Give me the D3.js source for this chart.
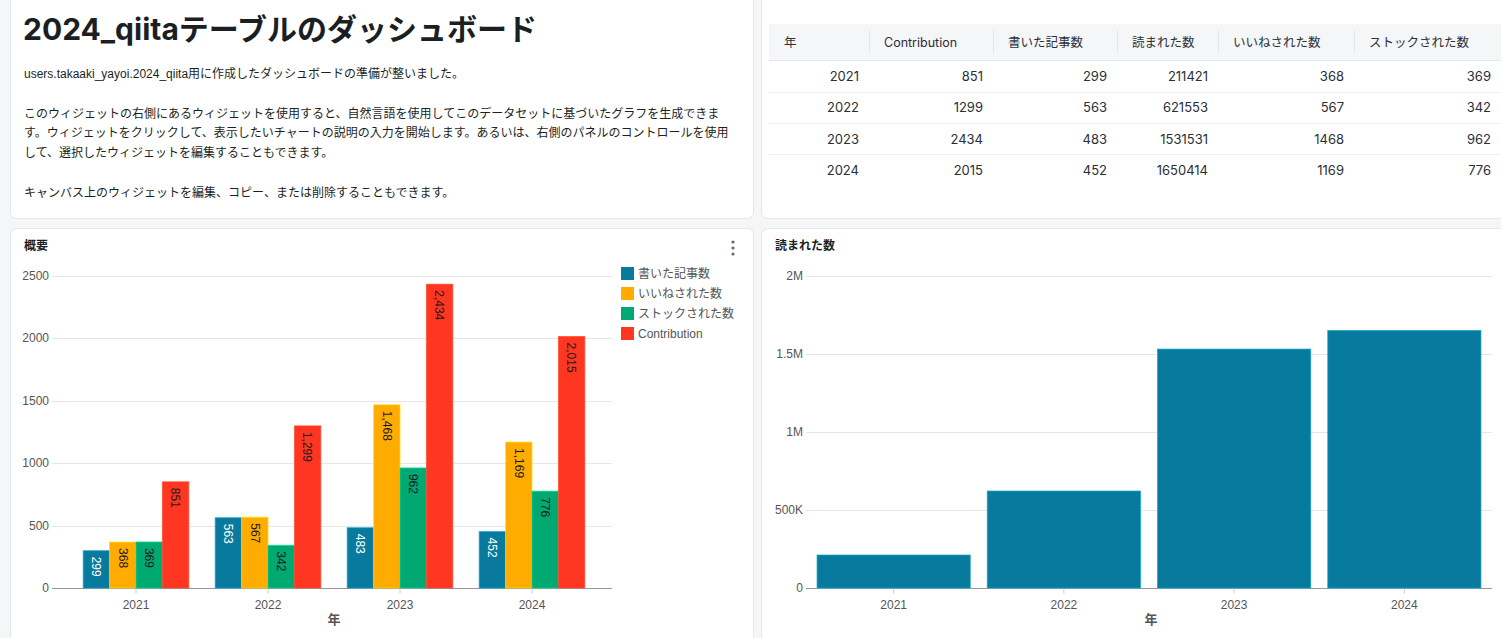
<!DOCTYPE html>
<html><head><meta charset="utf-8">
<script src="https://cdn.jsdelivr.net/npm/d3@7"></script>
<style>
html,body{margin:0;padding:0;background:#f5f6f8;overflow:hidden;}
svg{display:block;}
</style></head>
<body>
<script>
// ---- data ----
const years = ["2021", "2022", "2023", "2024"];
const contribution = [851, 1299, 2434, 2015];
const articles = [299, 563, 483, 452];
const views = [211421, 621553, 1531531, 1650414];
const likes = [368, 567, 1468, 1169];
const stocks = [369, 342, 962, 776];
const seriesNames = ["書いた記事数", "いいねされた数", "ストックされた数", "Contribution"];
const seriesColors = ["#077A9D", "#FFAB00", "#00A972", "#FF3621"];
const leftTicks = [0, 500, 1000, 1500, 2000, 2500];
const rightTicks = [0, 500000, 1000000, 1500000, 2000000];
const rightTickLabels = ["0", "500K", "1M", "1.5M", "2M"];
const tableHeaders = ["年", "Contribution", "書いた記事数", "読まれた数", "いいねされた数", "ストックされた数"];
const dashTitle = "2024_qiitaテーブルのダッシュボード";
const paragraphLines = [
  "users.takaaki_yayoi.2024_qiita用に作成したダッシュボードの準備が整いました。",
  "",
  "このウィジェットの右側にあるウィジェットを使用すると、自然言語を使用してこのデータセットに基づいたグラフを生成できま",
  "す。ウィジェットをクリックして、表示したいチャートの説明の入力を開始します。あるいは、右側のパネルのコントロールを使用",
  "して、選択したウィジェットを編集することもできます。",
  "",
  "キャンバス上のウィジェットを編集、コピー、または削除することもできます。"
];

const W = 1501, H = 638;
const FONT = "'Inter','Noto Sans CJK JP',sans-serif";
const PFONT = "'Liberation Sans','Noto Sans CJK JP',sans-serif";
const CFONT = "'Liberation Sans','Noto Sans CJK JP',sans-serif";

const svg = d3.select("body").append("svg").attr("width", W).attr("height", H);
svg.append("rect").attr("width", W).attr("height", H).attr("fill", "#f5f6f8");

// cards
const cards = [[10, -10, 743, 228], [761, -10, 760, 228], [10, 228, 743, 430], [761, 228, 760, 430]];
svg.selectAll("rect.card").data(cards).join("rect").attr("class", "card")
  .attr("x", d => d[0] + 0.5).attr("y", d => d[1] + 0.5).attr("width", d => d[2]).attr("height", d => d[3])
  .attr("rx", 6).attr("fill", "#fff").attr("stroke", "#e4e7eb");

// ---- text card ----
svg.append("text").attr("x", 23).attr("y", 40).attr("font-family", FONT).attr("font-size", 30)
  .attr("font-weight", 700).attr("fill", "#1b1f24").text(dashTitle);
svg.append("g").selectAll("text").data(paragraphLines).join("text")
  .attr("x", 24).attr("y", (d, i) => 78 + i * 19.8).attr("font-family", PFONT).attr("font-size", 12)
  .attr("fill", "#1b1f24").text(d => d);

// ---- table ----
const colEdges = [769, 869, 993, 1117, 1218, 1354, 1501];
const tg = svg.append("g");
tg.append("rect").attr("x", 769).attr("y", 24).attr("width", 740).attr("height", 36).attr("fill", "#f5f6f8");
tg.append("line").attr("x1", 769).attr("x2", 1501).attr("y1", 60.5).attr("y2", 60.5).attr("stroke", "#e3e6ea");
tg.selectAll("line.sep").data(colEdges.slice(1, 6)).join("line").attr("class", "sep")
  .attr("x1", d => d + 0.5).attr("x2", d => d + 0.5).attr("y1", 30).attr("y2", 54).attr("stroke", "#e3e6ea");
tg.selectAll("text.hd").data(tableHeaders).join("text").attr("class", "hd")
  .attr("x", (d, i) => colEdges[i] + 15).attr("y", 46.5).attr("font-family", FONT).attr("font-size", 12.5)
  .attr("fill", "#2a2f36").text(d => d);
const rows = years.map((y, i) => [y, contribution[i], articles[i], views[i], likes[i], stocks[i]]);
const rowY = d3.scaleLinear().domain([0, 1]).range([76, 107.3]);
tg.selectAll("line.rl").data(rows.slice(0, 3)).join("line").attr("class", "rl")
  .attr("x1", 769).attr("x2", 1501).attr("y1", (d, i) => Math.round(rowY(i + 0.5)) + 0.5)
  .attr("y2", (d, i) => Math.round(rowY(i + 0.5)) + 0.5).attr("stroke", "#eceef1");
rows.forEach((r, ri) => {
  tg.append("g").selectAll("text").data(r).join("text")
    .attr("x", (d, i) => colEdges[i + 1] - 10).attr("y", rowY(ri) + 5).attr("text-anchor", "end")
    .attr("font-family", FONT).attr("font-size", 13).attr("fill", "#2a2f36").text(d => d);
});

// ---- helpers ----
function chartTitle(x, t) {
  svg.append("text").attr("x", x).attr("y", 250).attr("font-family", FONT).attr("font-size", 12)
    .attr("font-weight", 700).attr("fill", "#1b1f24").text(t);
}
function drawAxes(g, x, y, ticks, fmt, x0, x1) {
  g.append("g").selectAll("line").data(ticks.slice(1)).join("line")
    .attr("x1", x0).attr("x2", x1).attr("y1", d => Math.round(y(d)) + 0.5).attr("y2", d => Math.round(y(d)) + 0.5)
    .attr("stroke", "#e6e6e6");
  g.append("g").selectAll("text").data(ticks).join("text")
    .attr("x", x0 - 3).attr("y", d => y(d) + 4).attr("text-anchor", "end")
    .attr("font-family", CFONT).attr("font-size", 12).attr("fill", "#555").text((d, i) => fmt(d, i));
  const ax = g.append("g").attr("transform", `translate(0,${Math.round(y(0)) + 0.5})`)
    .call(d3.axisBottom(x).tickSize(5).tickPadding(7));
  ax.select(".domain").attr("stroke", "#999").attr("d", `M${x0},0H${x1}`);
  ax.selectAll(".tick line").attr("stroke", "#ccc");
  ax.selectAll(".tick text").attr("font-family", CFONT).attr("font-size", 12).attr("fill", "#555");
  g.append("text").attr("x", (x0 + x1) / 2 + 2).attr("y", 624).attr("text-anchor", "middle")
    .attr("font-family", FONT).attr("font-size", 13).attr("font-weight", 700).attr("fill", "#555").text("年");
}

// ---- left chart ----
chartTitle(24, "概要");
svg.append("g").selectAll("circle").data([0, 1, 2]).join("circle")
  .attr("cx", 733).attr("cy", d => 242 + d * 6).attr("r", 1.6).attr("fill", "#5f6b7a");
const gl = svg.append("g");
const yl = d3.scaleLinear().domain([0, 2500]).range([588, 276]);
const xl = d3.scaleBand().domain(years).range([70, 598]).paddingInner(0.2).paddingOuter(0.1);
drawAxes(gl, xl, yl, leftTicks, d => d, 52, 612);
const seriesVals = [articles, likes, stocks, contribution];
const xs = d3.scaleBand().domain(d3.range(4)).range([0, xl.bandwidth()]);
const labelColors = ["#ffffff", "#1b1b1b", "#1b1b1b", "#1b1b1b"];
const fmtN = d3.format(",");
seriesVals.forEach((vals, si) => {
  const g = gl.append("g");
  g.selectAll("rect").data(vals).join("rect")
    .attr("x", (d, i) => xl(years[i]) + xs(si)).attr("y", d => yl(d))
    .attr("width", xs.bandwidth()).attr("height", d => yl(0) - yl(d))
    .attr("fill", seriesColors[si]).attr("stroke", d3.color(seriesColors[si]).brighter(0.8)).attr("stroke-width", 1)
    .attr("stroke-opacity", 0.7);
  g.selectAll("text").data(vals).join("text")
    .attr("transform", (d, i) => `translate(${xl(years[i]) + xs(si) + xs.bandwidth() / 2},${yl(d) + 6}) rotate(90)`)
    .attr("dy", "0.35em").attr("font-family", CFONT).attr("font-size", 12).attr("fill", labelColors[si])
    .text(d => fmtN(d));
});
// legend
const lg = svg.append("g");
lg.selectAll("rect").data(seriesNames).join("rect")
  .attr("x", 621).attr("y", (d, i) => 267 + i * 20).attr("width", 13).attr("height", 13)
  .attr("fill", (d, i) => seriesColors[i]);
lg.selectAll("text").data(seriesNames).join("text")
  .attr("x", 638).attr("y", (d, i) => 278 + i * 20).attr("font-family", CFONT).attr("font-size", 12)
  .attr("fill", "#555").text(d => d);

// ---- right chart ----
chartTitle(775, "読まれた数");
const gr = svg.append("g");
const xr = d3.scaleBand().domain(years).range([806, 1492]).paddingInner(0.1).paddingOuter(0.065);
const yr = d3.scaleLinear().domain([0, 2000000]).range([588, 276]);
drawAxes(gr, xr, yr, rightTicks, (d, i) => rightTickLabels[i], 806, 1492);
gr.append("g").selectAll("rect").data(views).join("rect")
  .attr("x", (d, i) => xr(years[i])).attr("y", d => yr(d))
  .attr("width", xr.bandwidth()).attr("height", d => yr(0) - yr(d))
  .attr("fill", "#077A9D").attr("stroke", d3.color("#077A9D").brighter(0.8)).attr("stroke-opacity", 0.7);
</script>
</body></html>
